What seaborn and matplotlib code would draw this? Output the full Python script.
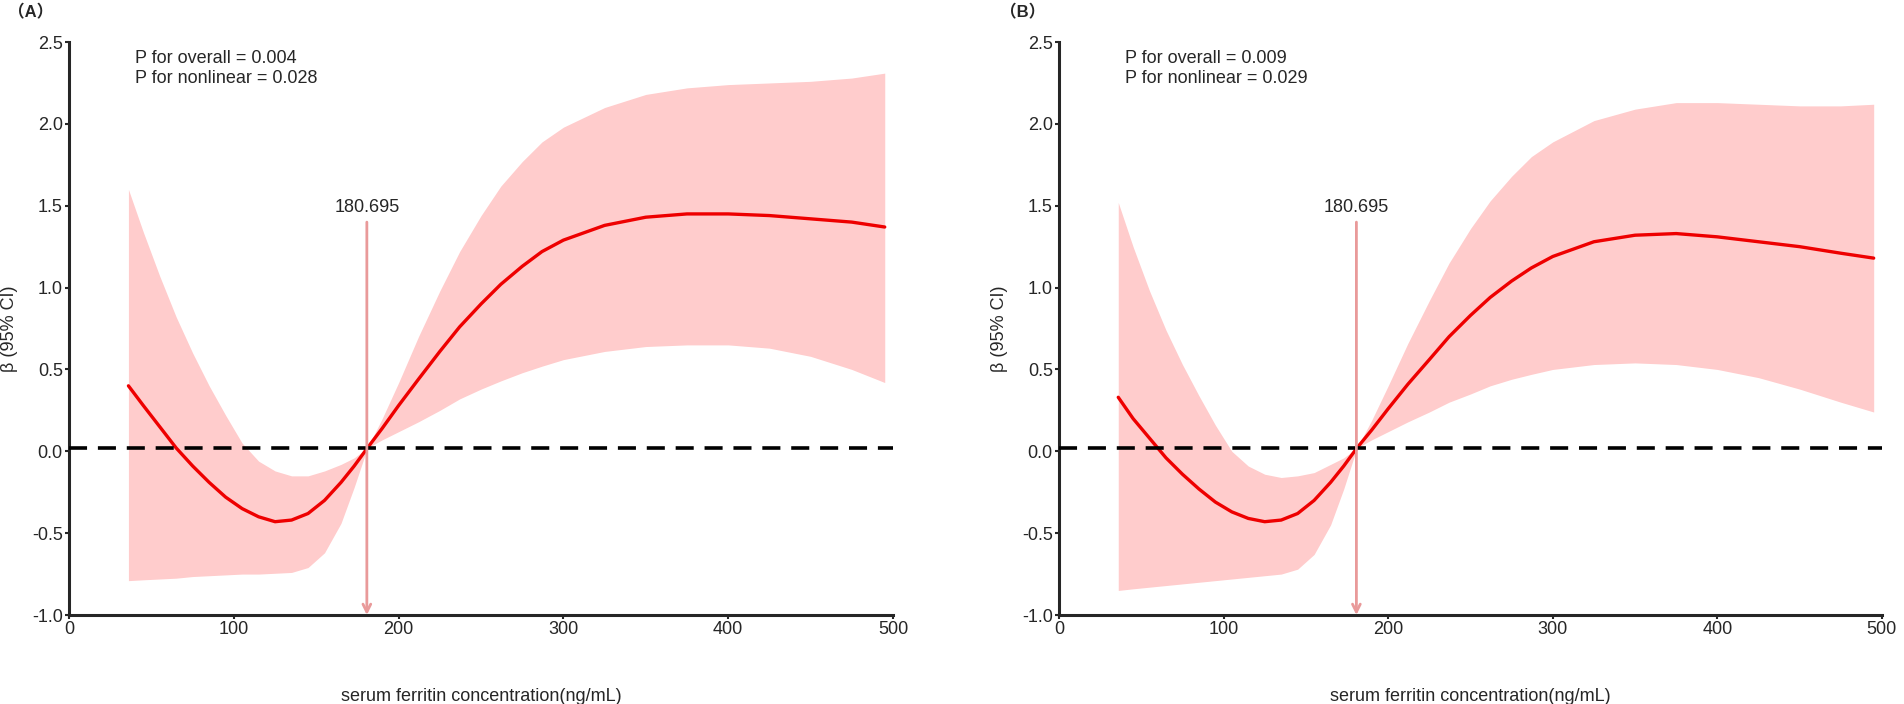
import numpy as np
import pandas as pd
import matplotlib
matplotlib.use("Agg")
import matplotlib.pyplot as plt
import seaborn as sns

sns.set_style("ticks")
plt.rcParams['font.family'] = ['Liberation Sans', 'Noto Sans CJK SC', 'DejaVu Sans']

# serum ferritin grid (ng/mL), shared by both panels
ferritin = [36, 45, 55, 65, 75, 85, 95, 105, 115, 125,
            135, 145, 155, 165, 173, 181, 190, 200, 212, 225,
            237, 250, 262, 275, 287, 300, 325, 350, 375, 400,
            425, 450, 475, 495]

# panel A: beta and 95% CI
beta_a = [0.40, 0.28, 0.15, 0.02, -0.09, -0.19, -0.28, -0.35, -0.40, -0.43,
          -0.42, -0.38, -0.30, -0.19, -0.09, 0.02, 0.14, 0.28, 0.44, 0.61,
          0.76, 0.90, 1.02, 1.13, 1.22, 1.29, 1.38, 1.43, 1.45, 1.45,
          1.44, 1.42, 1.40, 1.37]
upper_a = [1.60, 1.34, 1.07, 0.82, 0.60, 0.40, 0.22, 0.05, -0.06, -0.12,
           -0.15, -0.15, -0.12, -0.08, -0.04, 0.02, 0.20, 0.42, 0.70, 0.98,
           1.22, 1.44, 1.62, 1.77, 1.89, 1.98, 2.10, 2.18, 2.22, 2.24,
           2.25, 2.26, 2.28, 2.31]
lower_a = [-0.79, -0.785, -0.78, -0.775, -0.765, -0.76, -0.755, -0.75, -0.75, -0.745,
           -0.74, -0.71, -0.62, -0.44, -0.22, 0.02, 0.07, 0.12, 0.18, 0.25,
           0.32, 0.38, 0.43, 0.48, 0.52, 0.56, 0.61, 0.64, 0.65, 0.65,
           0.63, 0.58, 0.50, 0.42]

# panel B
beta_b = [0.33, 0.20, 0.08, -0.04, -0.14, -0.23, -0.31, -0.37, -0.41, -0.43,
          -0.42, -0.38, -0.30, -0.19, -0.09, 0.02, 0.13, 0.26, 0.41, 0.56,
          0.70, 0.83, 0.94, 1.04, 1.12, 1.19, 1.28, 1.32, 1.33, 1.31,
          1.28, 1.25, 1.21, 1.18]
upper_b = [1.52, 1.25, 0.98, 0.74, 0.53, 0.34, 0.16, 0.00, -0.09, -0.14,
           -0.16, -0.15, -0.13, -0.08, -0.04, 0.02, 0.19, 0.40, 0.66, 0.92,
           1.15, 1.36, 1.53, 1.68, 1.80, 1.89, 2.02, 2.09, 2.13, 2.13,
           2.12, 2.11, 2.11, 2.12]
lower_b = [-0.85, -0.84, -0.83, -0.82, -0.81, -0.80, -0.79, -0.78, -0.77, -0.76,
           -0.75, -0.72, -0.63, -0.45, -0.23, 0.02, 0.07, 0.12, 0.18, 0.24,
           0.30, 0.35, 0.40, 0.44, 0.47, 0.50, 0.53, 0.54, 0.53, 0.50,
           0.45, 0.38, 0.30, 0.24]

panels = ["A", "B"]
p_overall = ["0.004", "0.009"]
p_nonlinear = ["0.028", "0.029"]
cutoff = 180.695
ref_line = 0.02

fig = plt.figure(figsize=(19.04, 7.04), dpi=100)
ax_a = fig.add_axes([0.0363, 0.1264, 0.4327, 0.8139])
ax_b = fig.add_axes([0.5562, 0.1264, 0.4322, 0.8139])

series = [(beta_a, upper_a, lower_a), (beta_b, upper_b, lower_b)]
fs = 13

for i, (ax, (beta, up, lo)) in enumerate(zip([ax_a, ax_b], series)):
    df = pd.DataFrame({"x": ferritin, "beta": beta, "up": up, "lo": lo})
    ax.fill_between(df["x"], df["lo"], df["up"], color="#FFCCCC", lw=0, zorder=1)
    sns.lineplot(data=df, x="x", y="beta", color="#EE0000", lw=2.4, ax=ax, zorder=3)
    ax.axhline(ref_line, color="black", lw=2.6, dashes=(5, 3), zorder=4)
    ax.annotate("", xy=(cutoff, -1.0), xytext=(cutoff, 1.4),
                arrowprops=dict(arrowstyle="->", color="#E99A9A", lw=2,
                                shrinkA=0, shrinkB=0, mutation_scale=14), zorder=5)
    ax.text(cutoff, 1.49, f"{cutoff:.3f}", ha="center", va="center", fontsize=fs)
    ax.text(40, 2.40, f"P for overall = {p_overall[i]}", fontsize=fs, va="center")
    ax.text(40, 2.28, f"P for nonlinear = {p_nonlinear[i]}", fontsize=fs, va="center")

    ax.set_xlim(0, 500)
    ax.set_ylim(-1.0, 2.5)
    ax.set_xticks([0, 100, 200, 300, 400, 500])
    ax.set_yticks(np.arange(-1.0, 2.51, 0.5))
    ax.set_yticklabels([f"{v:.1f}" for v in np.arange(-1.0, 2.51, 0.5)])
    sns.despine(ax=ax)
    for s in ["left", "bottom"]:
        ax.spines[s].set_linewidth(2.2)
    ax.tick_params(axis="both", labelsize=fs, length=3, width=1.5, pad=1.5)
    ax.set_xlabel("serum ferritin concentration(ng/mL)", fontsize=fs)
    ax.set_ylabel("β (95% CI)", fontsize=fs)
    ax.xaxis.set_label_coords(0.5, -0.127)
    ax.yaxis.set_label_coords(-0.062, 0.5)

fig.text(0.004, 0.982, "（A）", fontsize=12, fontweight="bold", va="center")
fig.text(0.525, 0.982, "（B）", fontsize=12, fontweight="bold", va="center")

fig.savefig("out.png", dpi=100)
